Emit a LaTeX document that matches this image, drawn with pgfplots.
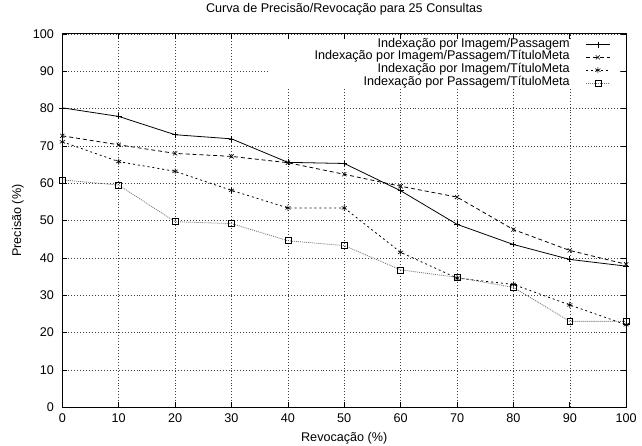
\documentclass[border=0pt]{standalone}
\usepackage{fontspec}
\setmainfont{Liberation Sans}
\usepackage{pgfplots}
\pgfplotsset{compat=1.18}
\begin{document}
\fontsize{12.8}{15}\selectfont
\begin{tikzpicture}
\begin{axis}[
  scale only axis,
  width=570bp, height=377.4bp,
  xmin=0, xmax=100, ymin=0, ymax=100,
  xtick={0,10,...,100}, ytick={0,10,...,100},
  /pgf/number format/assume math mode=true,
  tick align=inside,
  major tick length=5bp,
  axis line style={line width=0.9bp},
  every tick/.style={black, line width=0.6bp},
  grid=major,
  grid style={black!75, line width=0.5bp, dash pattern=on 1bp off 2bp},
  yticklabel style={xshift=-4bp},
  xticklabel style={yshift=-2bp},
  title={Curva de Precisão/Revocação para 25 Consultas},
  title style={at={(axis description cs:0.5,1)}, anchor=center, yshift=18.6bp, inner sep=0pt},
  xlabel={Revocação (\%)},
  xlabel style={at={(axis description cs:0.5,0)}, anchor=center, yshift=-31.3bp, inner sep=0pt},
  ylabel={Precisão (\%)},
  ylabel style={at={(axis description cs:-0.0789,0.5)}, anchor=center, inner sep=0pt},
  legend plot pos=right,
  legend cell align=right,
  legend style={draw=none, fill=none, inner sep=0pt, at={(0.9719,0.9889)}, anchor=north east,
    row sep=0pt, column sep=16bp,
    nodes={inner sep=0pt, text height=9bp, text depth=3.9bp}},
  legend image code/.code={\draw[mark repeat=2, mark phase=2, #1] plot coordinates {(0bp,0bp) (12bp,0bp) (24bp,0bp)};},
]
\fill[white] (axis cs:36.7,85.2) rectangle (axis cs:98.9,98.4);
\addplot[black, line width=0.8bp, mark=+, mark size=3bp, mark options={solid, line width=0.6bp}] coordinates {
 (0,80.2) (10,77.9) (20,73.0) (30,71.9) (40,65.6) (50,65.3) (60,58.0) (70,49.0) (80,43.6) (90,39.6) (100,37.8)};
\addlegendentry{Indexação por Imagem/Passagem}
\addplot[black, line width=0.8bp, dash pattern=on 4bp off 3bp, mark=x, mark size=3bp, mark options={solid, line width=0.6bp}] coordinates {
 (0,72.7) (10,70.3) (20,68.0) (30,67.2) (40,65.5) (50,62.4) (60,59.2) (70,56.3) (80,47.6) (90,42.0) (100,38.3)};
\addlegendentry{Indexação por Imagem/Passagem/TítuloMeta}
\addplot[black, line width=0.8bp, dash pattern=on 2bp off 3bp, mark=asterisk, mark size=3bp, mark options={solid, line width=0.6bp}] coordinates {
 (0,71.1) (10,65.8) (20,63.2) (30,58.1) (40,53.4) (50,53.4) (60,41.5) (70,34.6) (80,32.9) (90,27.4) (100,22.1)};
\addlegendentry{Indexação por Imagem/TítuloMeta}
\addplot[black!55, line width=0.8bp, dash pattern=on 1bp off 1bp, mark=square, mark size=3bp, mark options={solid, black, line width=0.6bp}] coordinates {
 (0,60.9) (10,59.5) (20,49.7) (30,49.2) (40,44.6) (50,43.3) (60,36.8) (70,34.8) (80,32.1) (90,23.0) (100,23.0)};
\addlegendentry{Indexação por Passagem/TítuloMeta}
\end{axis}
\pgfresetboundingbox
\path (-63bp,-38.3bp) rectangle (586bp,411.7bp);
\end{tikzpicture}
\end{document}
